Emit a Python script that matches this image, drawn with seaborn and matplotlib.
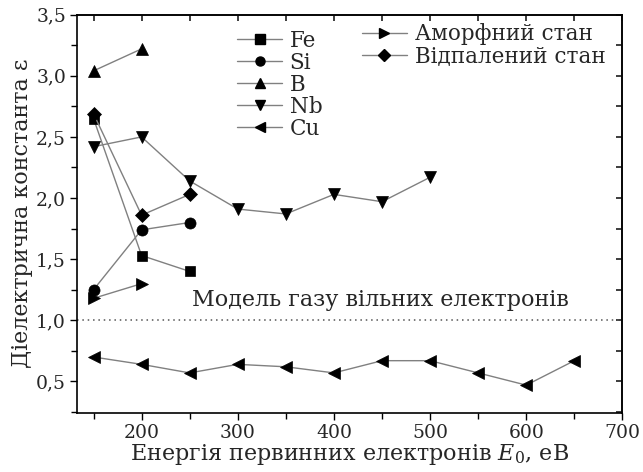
import matplotlib
matplotlib.use("Agg")
import matplotlib.pyplot as plt
import seaborn as sns
import pandas as pd
from matplotlib.ticker import MultipleLocator, FuncFormatter
from matplotlib.lines import Line2D

# Dielectric constant vs primary electron energy
fe_x = [150, 200, 250]
fe_y = [2.65, 1.53, 1.40]
si_x = [150, 200, 250]
si_y = [1.25, 1.74, 1.80]
b_x = [150, 200]
b_y = [3.04, 3.22]
nb_x = [150, 200, 250, 300, 350, 400, 450, 500]
nb_y = [2.42, 2.50, 2.14, 1.91, 1.87, 2.03, 1.97, 2.17]
cu_x = [150, 200, 250, 300, 350, 400, 450, 500, 550, 600, 650]
cu_y = [0.70, 0.64, 0.57, 0.64, 0.62, 0.57, 0.67, 0.67, 0.57, 0.47, 0.67]
amorph_x = [150, 200]
amorph_y = [1.18, 1.30]
anneal_x = [150, 200, 250]
anneal_y = [2.69, 1.86, 2.03]

labels_elem = ["Fe", "Si", "B", "Nb", "Cu"]
labels_state = ["Аморфний стан", "Відпалений стан"]
free_gas_label = "Модель газу вільних електронів"

sns.set_theme(style="ticks")
plt.rcParams["font.family"] = ["DejaVu Serif"]
plt.rcParams["mathtext.fontset"] = "dejavuserif"

fig = plt.figure(figsize=(6.43, 4.72), dpi=100)
ax = fig.add_axes([0.12, 0.126, 0.848, 0.843])

line_c = "#808080"
series = [
    (fe_x, fe_y, "s", 7),
    (si_x, si_y, "o", 8),
    (b_x, b_y, "^", 8.5),
    (nb_x, nb_y, "v", 8.5),
    (cu_x, cu_y, "<", 8.5),
    (amorph_x, amorph_y, ">", 8.5),
    (anneal_x, anneal_y, "D", 7),
]
for xs, ys, mk, ms in series:
    df = pd.DataFrame({"E": xs, "eps": ys})
    sns.lineplot(data=df, x="E", y="eps", ax=ax, color=line_c, lw=1.0,
                 marker=mk, markersize=ms, markerfacecolor="black",
                 markeredgecolor="black", markeredgewidth=0.5, sort=False)

ax.axhline(1.0, color="#555555", lw=1.1, ls=(0, (1, 2.5)))
ax.text(448, 1.17, free_gas_label, ha="center", va="center", fontsize=16)

ax.set_xlim(133, 700)
ax.set_ylim(0.246, 3.5)
ax.xaxis.set_major_locator(MultipleLocator(100))
ax.xaxis.set_minor_locator(MultipleLocator(50))
ax.yaxis.set_major_locator(MultipleLocator(0.5))
ax.yaxis.set_minor_locator(MultipleLocator(0.25))
ax.yaxis.set_major_formatter(FuncFormatter(lambda v, p: f"{v:.1f}".replace(".", ",")))
ax.xaxis.set_major_formatter(FuncFormatter(lambda v, p: f"{v:.0f}"))

ax.tick_params(which="both", direction="out", top=False, right=False,
               labelsize=13.5, width=1.0, color="black", pad=3)
ax.tick_params(which="major", length=5)
ax.tick_params(which="minor", length=4)

ax_top = ax.secondary_xaxis("top")
ax_top.xaxis.set_major_locator(MultipleLocator(50))
ax_top.tick_params(direction="in", length=4, labeltop=False)
ax_right = ax.secondary_yaxis("right")
ax_right.yaxis.set_major_locator(MultipleLocator(0.25))
ax_right.tick_params(direction="in", length=4, labelright=False)

for s in ax.spines.values():
    s.set_visible(True)
    s.set_color("black")
    s.set_linewidth(1.2)

ax.set_xlabel(r"Енергія первинних електронів $E_0$, еВ", fontsize=16, labelpad=0)
ax.set_ylabel("Діелектрична константа ε", fontsize=16, labelpad=2)

markers = [m for _, _, m, _ in series]
h_elem = [Line2D([], [], color=line_c, lw=1.0, marker=markers[i], markersize=6.5,
                 markerfacecolor="black", markeredgecolor="black") for i in range(5)]
h_state = [Line2D([], [], color=line_c, lw=1.0, marker=markers[i], markersize=6.5,
                  markerfacecolor="black", markeredgecolor="black") for i in (5, 6)]

leg_kw = dict(frameon=False, fontsize=15.5, handlelength=2.1, handletextpad=0.35,
              labelspacing=0.0, borderaxespad=0.0, borderpad=0.0)
leg1 = ax.legend(h_elem, labels_elem, loc="upper left", bbox_to_anchor=(0.293, 0.962), **leg_kw)
ax.add_artist(leg1)
ax.legend(h_state, labels_state, loc="upper left", bbox_to_anchor=(0.522, 0.978), **leg_kw)

fig.savefig("out.png", dpi=100)
